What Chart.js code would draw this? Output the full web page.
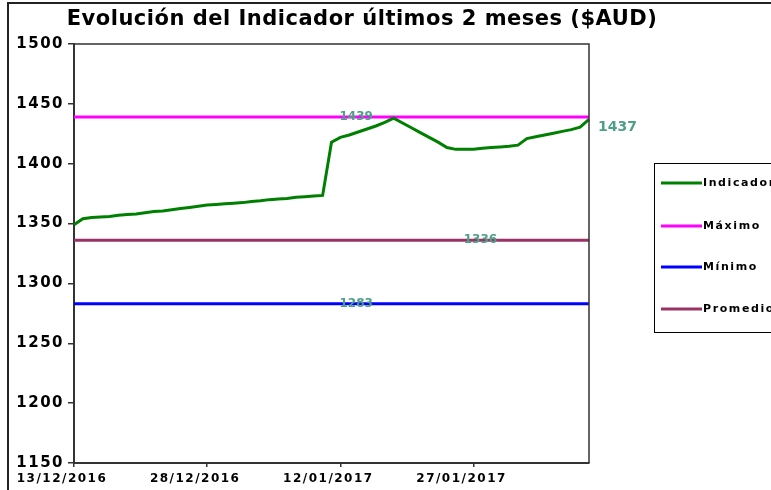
<!DOCTYPE html>
<html>
<head>
<meta charset="utf-8">
<script src="https://cdn.jsdelivr.net/npm/chart.js@4/dist/chart.umd.min.js"></script>
<style>
  html, body { margin: 0; padding: 0; background: #fff; }
  #wrap { width: 771px; height: 490px; position: relative; }
</style>
</head>
<body>
<div id="wrap"><canvas id="chart" width="771" height="490"></canvas></div>
<script>
// Daily dates shown on the category axis
const fechas = [
  '13/12/2016','14/12/2016','15/12/2016','16/12/2016','17/12/2016','18/12/2016','19/12/2016','20/12/2016',
  '21/12/2016','22/12/2016','23/12/2016','24/12/2016','25/12/2016','26/12/2016','27/12/2016','28/12/2016',
  '29/12/2016','30/12/2016','31/12/2016','01/01/2017','02/01/2017','03/01/2017','04/01/2017','05/01/2017',
  '06/01/2017','07/01/2017','08/01/2017','09/01/2017','10/01/2017','11/01/2017','12/01/2017','13/01/2017',
  '14/01/2017','15/01/2017','16/01/2017','17/01/2017','18/01/2017','19/01/2017','20/01/2017','21/01/2017',
  '22/01/2017','23/01/2017','24/01/2017','25/01/2017','26/01/2017','27/01/2017','28/01/2017','29/01/2017',
  '30/01/2017','31/01/2017','01/02/2017','02/02/2017','03/02/2017','04/02/2017','05/02/2017','06/02/2017',
  '07/02/2017','08/02/2017','09/02/2017'
];

// Only these dates get a tick label
const fechasVisibles = ['13/12/2016', '28/12/2016', '12/01/2017', '27/01/2017'];

// Indicator values
const indicador = [
  1349, 1354, 1355, 1355.5, 1356, 1357, 1357.5, 1358, 1359, 1360,
  1360.5, 1361.5, 1362.5, 1363.5, 1364.5, 1365.5, 1366, 1366.5, 1367, 1367.5,
  1368.5, 1369, 1370, 1370.5, 1371, 1372, 1372.5, 1373, 1373.5, 1418,
  1422, 1424, 1426.5, 1429, 1431.5, 1434.5, 1438, 1434, 1430, 1426,
  1422, 1418, 1413.5, 1412, 1412, 1412, 1413, 1413.5, 1414, 1414.5,
  1415.5, 1421, 1422.5, 1424, 1425.5, 1427, 1428.5, 1430.5, 1437
];

const maximo = 1439;
const minimo = 1283;
const promedio = 1336;

// which point of each series carries its value label
const indiceEtiqueta = [58, 32, 32, 46];

const yTicks = [1150, 1200, 1250, 1300, 1350, 1400, 1450, 1500];

const constante = v => fechas.map(() => v);

// the old spreadsheet font is spaced out, so widen the axis text a little
const espaciado = {
  id: 'espaciado',
  beforeDraw(chart) { chart.ctx.letterSpacing = '1.5px'; }
};

// draws the outer frame, the title, the value labels and the legend box
const decoracion = {
  id: 'decoracion',
  afterDraw(chart) {
    const ctx = chart.ctx;
    const area = chart.chartArea;
    ctx.save();
    ctx.letterSpacing = '0px';

    // outer frame (right/bottom edges fall outside the canvas)
    ctx.strokeStyle = '#222';
    ctx.lineWidth = 2;
    ctx.strokeRect(8, 3, 800, 520);

    // plot area box
    ctx.lineWidth = 1.5;
    ctx.strokeStyle = '#333';
    ctx.beginPath();
    ctx.moveTo(area.left, area.top);
    ctx.lineTo(area.right, area.top);
    ctx.lineTo(area.right, area.bottom);
    ctx.stroke();

    // title
    ctx.fillStyle = '#000';
    ctx.font = 'bold 21px "DejaVu Sans"';
    ctx.letterSpacing = '0.5px';
    ctx.textAlign = 'center';
    ctx.textBaseline = 'middle';
    ctx.fillText('Evolución del Indicador últimos 2 meses ($AUD)', 362, 20);
    ctx.letterSpacing = '0px';

    // value labels
    ctx.fillStyle = '#4f9e88';
    chart.data.datasets.forEach((ds, i) => {
      const pt = chart.getDatasetMeta(i).data[indiceEtiqueta[i]];
      const texto = String(ds.data[indiceEtiqueta[i]]);
      if (i === 0) {
        ctx.font = 'bold 14px "DejaVu Sans"';
        ctx.textAlign = 'left';
        ctx.fillText(texto, pt.x + 9, pt.y + 8);
      } else {
        ctx.font = 'bold 12px "DejaVu Sans"';
        ctx.textAlign = 'center';
        ctx.fillText(texto, pt.x - 2, pt.y);
      }
    });

    // legend
    ctx.strokeStyle = '#000';
    ctx.lineWidth = 1;
    ctx.strokeRect(654.5, 163.5, 200, 169);
    const filas = [183, 226, 267, 309];
    ctx.font = 'bold 11px "DejaVu Sans"';
    ctx.letterSpacing = '1.6px';
    ctx.textAlign = 'left';
    chart.data.datasets.forEach((ds, i) => {
      ctx.strokeStyle = ds.borderColor;
      ctx.lineWidth = 3;
      ctx.beginPath();
      ctx.moveTo(661, filas[i]);
      ctx.lineTo(702, filas[i]);
      ctx.stroke();
      ctx.fillStyle = '#000';
      ctx.fillText(ds.label, 703, filas[i]);
    });

    ctx.restore();
  }
};

new Chart(document.getElementById('chart'), {
  type: 'line',
  data: {
    labels: fechas,
    datasets: [
      { label: 'Indicador', data: indicador, borderColor: '#008000' },
      { label: 'Máximo', data: constante(maximo), borderColor: '#ff00ff' },
      { label: 'Mínimo', data: constante(minimo), borderColor: '#0000ff' },
      { label: 'Promedio', data: constante(promedio), borderColor: '#993366' }
    ]
  },
  options: {
    responsive: false,
    animation: false,
    layout: { padding: { left: 0, top: 44, right: 182, bottom: 0 } },
    elements: {
      line: { borderWidth: 3, tension: 0 },
      point: { radius: 0 }
    },
    plugins: {
      legend: { display: false },
      title: { display: false },
      tooltip: { enabled: false }
    },
    scales: {
      x: {
        offset: false,
        afterFit: s => { s.height = 27; },
        grid: {
          display: true, drawOnChartArea: false, drawTicks: true,
          tickLength: 4, color: '#333',
          lineWidth: ctx => (ctx.tick && fechasVisibles.includes(fechas[ctx.index]) ? 1.5 : 0)
        },
        border: { display: true, color: '#333', width: 2 },
        ticks: {
          autoSkip: false, maxRotation: 0, minRotation: 0,
          labelOffset: -12, padding: 5,
          color: '#000',
          font: { family: 'DejaVu Sans', weight: 'bold', size: 12 },
          callback: function (v, i) {
            const f = fechas[i];
            return fechasVisibles.includes(f) ? f : '';
          }
        }
      },
      y: {
        min: 1150, max: 1500,
        afterFit: s => { s.width = 74; },
        afterBuildTicks: s => { s.ticks = yTicks.map(v => ({ value: v })); },
        grid: {
          display: true, drawOnChartArea: false, drawTicks: true,
          tickLength: 6, color: '#333', lineWidth: 1.5
        },
        border: { display: true, color: '#333', width: 2 },
        ticks: {
          padding: 4,
          color: '#000',
          font: { family: 'DejaVu Sans', weight: 'bold', size: 15 },
          callback: v => String(v)
        }
      }
    }
  },
  plugins: [espaciado, decoracion]
});
</script>
</body>
</html>
